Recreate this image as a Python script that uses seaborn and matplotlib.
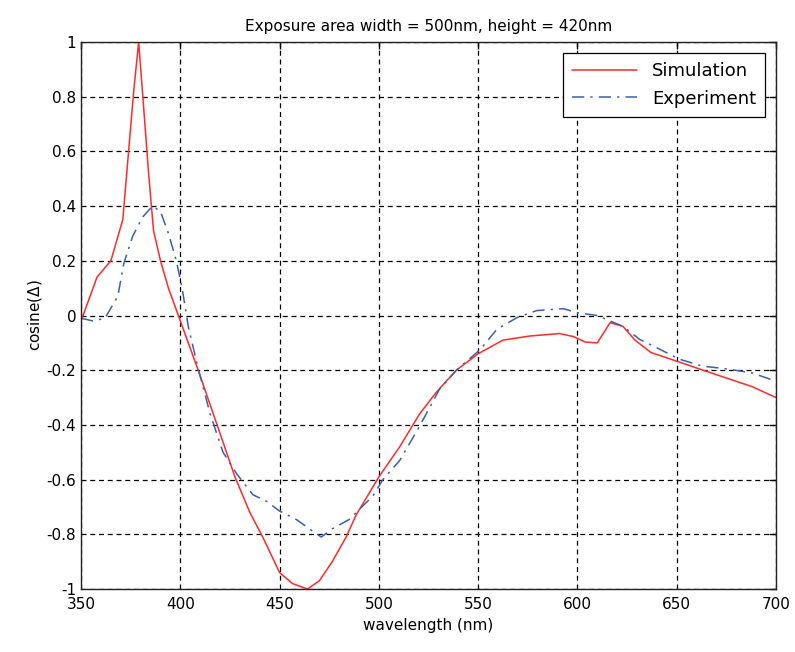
import matplotlib
matplotlib.use('Agg')
import matplotlib.pyplot as plt
import pandas as pd
import seaborn as sns

# Simulation curve
sim_wl = [350, 358, 365, 371, 376.5, 379, 381, 384, 386.5, 390, 394, 399,
          409, 418.5, 427.5, 435, 441.5, 450, 456.5, 464, 470, 476.5, 483.5,
          488.5, 500, 510.5, 520.5, 529, 539, 550, 562.5, 576, 591, 598, 604,
          610, 616.5, 623, 629, 637, 650, 671.5, 688, 700]
sim_val = [-0.02, 0.14, 0.2, 0.35, 0.82, 1.0, 0.81, 0.52, 0.31, 0.2, 0.1, 0.0,
           -0.2, -0.4, -0.59, -0.72, -0.81, -0.94, -0.98, -1.0, -0.97, -0.9, -0.81,
           -0.73, -0.59, -0.48, -0.36, -0.28, -0.2, -0.14, -0.09, -0.075, -0.066,
           -0.077, -0.097, -0.1, -0.026, -0.04, -0.09, -0.135, -0.167, -0.22,
           -0.26, -0.3]

# Experiment curve
exp_wl = [350, 356, 362, 368.5, 371.5, 376, 381, 386, 390, 394, 398, 401,
          404, 408.5, 415, 421.5, 428.5, 436.5, 443.5, 450, 458.5, 465, 471,
          476.5, 485, 490, 497, 502, 510.5, 520.5, 530.5, 539, 551, 559.5,
          569.5, 579.5, 593, 600, 610, 616.5, 623, 631.5, 640, 651.5, 663,
          675, 688, 700]
exp_val = [-0.01, -0.02, -0.01, 0.07, 0.19, 0.29, 0.36, 0.4, 0.38, 0.3, 0.2, 0.095,
           -0.04, -0.18, -0.36, -0.5, -0.58, -0.655, -0.68, -0.715, -0.746, -0.78,
           -0.81, -0.78, -0.746, -0.71, -0.66, -0.6, -0.53, -0.405, -0.27, -0.2,
           -0.125, -0.05, -0.008, 0.018, 0.025, 0.01, 0.0, -0.02, -0.04, -0.088,
           -0.118, -0.16, -0.185, -0.195, -0.21, -0.24]

x_ticks = [350, 400, 450, 500, 550, 600, 650, 700]
y_ticks = [-1, -0.8, -0.6, -0.4, -0.2, 0, 0.2, 0.4, 0.6, 0.8, 1]
y_labels = ['-1', '-0.8', '-0.6', '-0.4', '-0.2', '0', '0.2', '0.4', '0.6', '0.8', '1']

df_sim = pd.DataFrame({'wavelength': sim_wl, 'value': sim_val})
df_exp = pd.DataFrame({'wavelength': exp_wl, 'value': exp_val})

sns.set_style('white')
plt.rcParams.update({
    'font.family': ['DejaVu Sans'],
    'text.color': 'black',
    'axes.labelcolor': 'black',
    'xtick.color': 'black',
    'ytick.color': 'black',
    'xtick.direction': 'in',
    'ytick.direction': 'in',
    'xtick.major.size': 5,
    'ytick.major.size': 5,
})

fig = plt.figure(figsize=(7.95, 6.52), dpi=100)
ax = fig.add_axes([0.102, 0.0966, 0.874, 0.839])

sns.lineplot(df_sim, x='wavelength', y='value', ax=ax, color='#ff2a2a',
             linewidth=1.1, label='Simulation', estimator=None, sort=False)
sns.lineplot(df_exp, x='wavelength', y='value', ax=ax, color='#3a5fb0',
             linewidth=1.1, linestyle=(0, (8, 4, 1.5, 4)), label='Experiment',
             estimator=None, sort=False)

ax.set_xlim(350, 700)
ax.set_ylim(-1, 1)
ax.set_xticks(x_ticks)
ax.set_yticks(y_ticks)
ax.set_yticklabels(y_labels)
ax.tick_params(labelsize=11, top=True, right=True, width=1)
ax.tick_params(axis='x', pad=6)
ax.grid(True, color='black', linestyle=(0, (4, 3)), linewidth=0.9)
for s in ax.spines.values():
    s.set_color('#222222')
    s.set_linewidth(1)

ax.set_title('Exposure area width = 500nm, height = 420nm', fontsize=11, pad=8)
ax.set_xlabel('wavelength (nm)', fontsize=11, labelpad=4)
ax.set_ylabel(r'cosine($\Delta$)', fontsize=11, labelpad=2)

leg = ax.legend(loc='upper right', fontsize=13, frameon=True, fancybox=False,
                handlelength=3.6, borderpad=0.5, labelspacing=0.55,
                borderaxespad=0.6)
leg.get_frame().set_edgecolor('black')
leg.get_frame().set_linewidth(0.9)
leg.get_frame().set_alpha(1)

fig.savefig('out.png', dpi=100)
